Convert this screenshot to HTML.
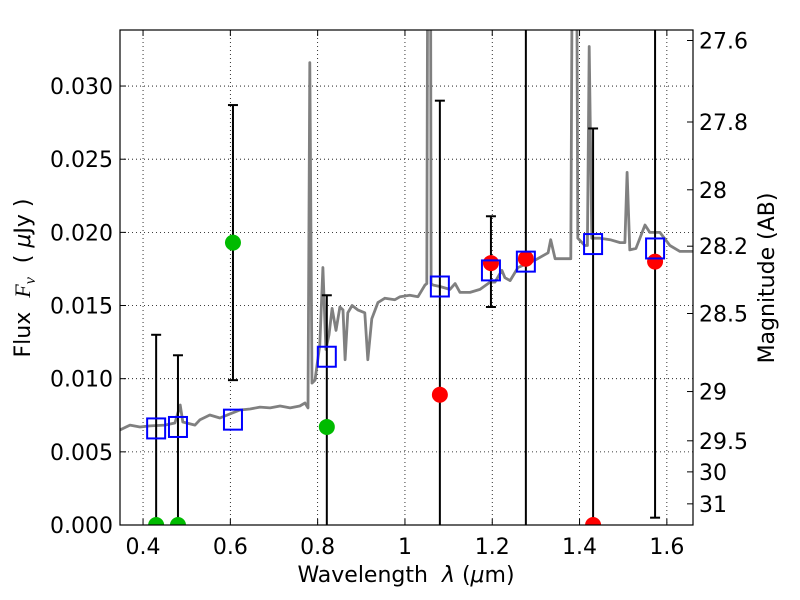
<!DOCTYPE html>
<html><head><meta charset="utf-8"><style>
body{margin:0;background:#fff;}
svg{display:block;font-family:"DejaVu Sans","Liberation Sans",sans-serif;}
text{white-space:pre;}
</style></head><body>
<svg id="chart" width="800" height="600" viewBox="0 0 800 600" xmlns="http://www.w3.org/2000/svg">
<defs><clipPath id="plotclip"><rect x="120" y="30" width="573" height="495"/></clipPath></defs>
<rect x="0" y="0" width="800" height="600" fill="#fff"/>
<g id="grid"></g>
<g id="series" clip-path="url(#plotclip)"></g>
<g id="marks"></g>
<rect x="120" y="30" width="573" height="495" fill="none" stroke="#000" stroke-width="1.2"/>
<g id="axes"></g>
<text x="406" y="582" font-size="22" text-anchor="middle" xml:space="preserve">Wavelength  <tspan font-style="italic">λ</tspan> (<tspan font-style="italic">μ</tspan>m)</text>
<text transform="translate(30,278) rotate(-90)" font-size="22" text-anchor="middle" xml:space="preserve">Flux  <tspan font-family="Liberation Serif" font-style="italic">F<tspan font-size="16" dy="5">ν</tspan></tspan><tspan dy="-5">  ( </tspan><tspan font-style="italic">μ</tspan>Jy )</text>
<text transform="translate(774,278) rotate(-90)" font-size="22" text-anchor="middle">Magnitude (AB)</text>
</svg>
<script>
const spectrumLam=[0.347,0.37,0.393,0.416,0.45,0.473,0.485,0.491,0.519,0.53,0.553,0.576,0.599,0.622,0.645,0.668,0.691,0.714,0.737,0.759,0.771,0.778,0.782,0.787,0.794,0.805,0.812,0.819,0.826,0.833,0.842,0.851,0.858,0.863,0.869,0.879,0.892,0.908,0.915,0.924,0.938,0.954,0.977,0.989,1.011,1.03,1.046,1.05,1.053,1.058,1.06,1.064,1.08,1.103,1.115,1.126,1.149,1.172,1.195,1.206,1.222,1.229,1.241,1.259,1.275,1.298,1.328,1.334,1.344,1.367,1.38,1.385,1.392,1.396,1.412,1.418,1.422,1.428,1.447,1.47,1.493,1.504,1.509,1.515,1.529,1.55,1.561,1.584,1.607,1.63,1.66];
const spectrumFlux=[0.00649,0.00683,0.0067,0.00677,0.00683,0.00697,0.0082,0.00704,0.00683,0.00718,0.00752,0.00731,0.00759,0.00786,0.00793,0.00806,0.0080,0.00813,0.0080,0.00813,0.00834,0.0080,0.0316,0.0097,0.0099,0.0123,0.0176,0.0120,0.0130,0.0148,0.0133,0.0149,0.0147,0.0113,0.0145,0.0150,0.0147,0.0145,0.0113,0.0141,0.0152,0.0155,0.0154,0.0156,0.0157,0.0156,0.0164,0.0165,0.05,0.05,0.0165,0.0164,0.0163,0.0161,0.0165,0.0159,0.0159,0.0161,0.0166,0.0166,0.0174,0.0169,0.0167,0.0176,0.0178,0.0181,0.0186,0.0195,0.0182,0.0182,0.0182,0.05,0.05,0.0196,0.0191,0.0191,0.0327,0.0196,0.0196,0.0195,0.0193,0.0193,0.0241,0.0188,0.0189,0.0205,0.0200,0.0200,0.0191,0.0187,0.0187];
const greenLam=[0.430,0.480,0.606,0.821];
const greenFlux=[0,0,0.0193,0.0067];
const greenErrLo=[-0.01,-0.01,0.0099,-0.01];
const greenErrHi=[0.0130,0.0116,0.0287,0.0157];
const redLam=[1.080,1.197,1.277,1.431,1.573];
const redFlux=[0.0089,0.0179,0.0182,0,0.0180];
const redErrLo=[-0.01,0.0149,-0.01,-0.01,0.0005];
const redErrHi=[0.0290,0.0211,0.05,0.0271,0.05];
const modelLam=[0.430,0.480,0.606,0.821,1.080,1.197,1.277,1.431,1.573];
const modelFlux=[0.0066,0.0067,0.0072,0.0115,0.0163,0.0174,0.0180,0.0192,0.0189];
const xTicks=[0.4,0.6,0.8,1.0,1.2,1.4,1.6];
const xTickLabels=["0.4","0.6","0.8","1","1.2","1.4","1.6"];
const yTicks=[0,0.005,0.010,0.015,0.020,0.025,0.030];
const yTickLabels=["0.000","0.005","0.010","0.015","0.020","0.025","0.030"];
const magTicks=[27.6,27.8,28,28.2,28.5,29,29.5,30,31];
const magTickLabels=["27.6","27.8","28","28.2","28.5","29","29.5","30","31"];

const X0=120,X1=693,Y0=525,Y1=30,XMIN=0.3472,XMAX=1.6599,YMIN=0,YMAX=0.03383;
const sx=v=>X0+(v-XMIN)/(XMAX-XMIN)*(X1-X0);
const sy=v=>Y0-(v-YMIN)/(YMAX-YMIN)*(Y0-Y1);
const magToFlux=m=>Math.pow(10,(23.9-m)/2.5);
const NS='http://www.w3.org/2000/svg';
function mk(tag,parent,attrs){const e=document.createElementNS(NS,tag);for(const k in attrs)e.setAttribute(k,attrs[k]);parent.appendChild(e);return e;}
const grid=document.getElementById('grid'),series=document.getElementById('series'),axes=document.getElementById('axes');

xTicks.forEach((t,i)=>{
  const x=sx(t);
  const g=mk('line',grid,{x1:x,x2:x,y1:Y1,y2:Y0,stroke:'#000','stroke-width':0.8,'stroke-dasharray':'1,3'});
  
  
  mk('line',axes,{x1:x,x2:x,y1:Y0,y2:Y0-6,stroke:'#000'});
  mk('line',axes,{x1:x,x2:x,y1:Y1,y2:Y1+6,stroke:'#000'});
  const tx=mk('text',axes,{x:x,y:Y0+29,'font-size':22,'text-anchor':'middle'});
  tx.textContent=xTickLabels[i];
  
  
});
yTicks.forEach((t,i)=>{
  const y=sy(t);
  const g=mk('line',grid,{x1:X0,x2:X1,y1:y,y2:y,stroke:'#000','stroke-width':0.8,'stroke-dasharray':'1,3'});
  
  
  mk('line',axes,{x1:X0,x2:X0+6,y1:y,y2:y,stroke:'#000'});
  const tx=mk('text',axes,{x:X0-7,y:y+8,'font-size':22,'text-anchor':'end'});
  tx.textContent=yTickLabels[i];
  
  
});
magTicks.forEach((m,i)=>{
  const y=sy(magToFlux(m));
  mk('line',axes,{x1:X1-6,x2:X1,y1:y,y2:y,stroke:'#000'});
  const tx=mk('text',axes,{x:X1+6,y:y+8,'font-size':22,'text-anchor':'start'});
  tx.textContent=magTickLabels[i];
  
  
});

const pts=spectrumLam.map((l,i)=>sx(l).toFixed(1)+','+sy(spectrumFlux[i]).toFixed(1)).join(' ');
const sp=mk('polyline',series,{points:pts,fill:'none',stroke:'#808080','stroke-width':2.8,'stroke-linejoin':'round'});



function errbars(lams,lo,hi,name){
  lams.forEach((l,i)=>{
    const x=sx(l),yl=Math.min(sy(Math.max(lo[i],-0.01)),Y0+5),yh=Math.max(sy(Math.min(hi[i],0.05)),Y1-5);
    const e=mk('line',series,{x1:x,x2:x,y1:yl,y2:yh,stroke:'#000','stroke-width':2});
    
    
    mk('line',series,{x1:x-5,x2:x+5,y1:yl,y2:yl,stroke:'#000','stroke-width':2});
    mk('line',series,{x1:x-5,x2:x+5,y1:yh,y2:yh,stroke:'#000','stroke-width':2});
  });
}
errbars(greenLam,greenErrLo,greenErrHi,'green-errorbar');
errbars(redLam,redErrLo,redErrHi,'red-errorbar');
greenLam.forEach((l,i)=>{
  const c=mk('circle',series,{cx:sx(l),cy:sy(greenFlux[i]),r:8,fill:'#00bb00'});
  
  
});
redLam.forEach((l,i)=>{
  const c=mk('circle',series,{cx:sx(l),cy:sy(redFlux[i]),r:8,fill:'#ff0000'});
  
  
});
modelLam.forEach((l,i)=>{
  const r=mk('rect',series,{x:sx(l)-9,y:sy(modelFlux[i])-10,width:18,height:20,fill:'none',stroke:'#0000ff','stroke-width':2});
  
  
});
</script>
</body></html>
